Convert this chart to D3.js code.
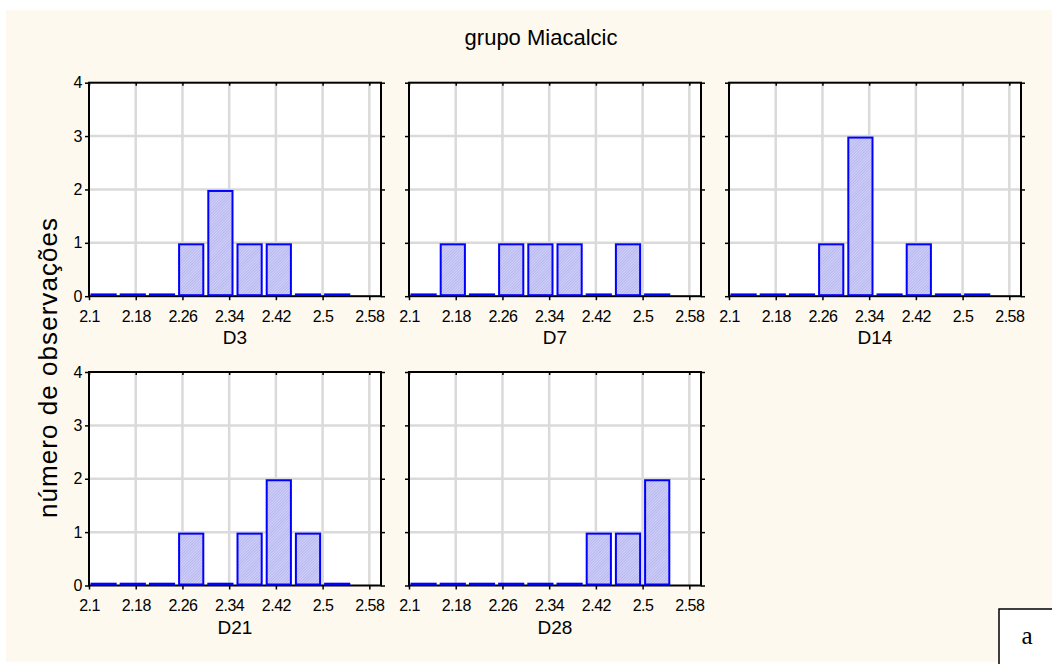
<!DOCTYPE html>
<html>
<head>
<meta charset="utf-8">
<script src="https://cdn.jsdelivr.net/npm/d3@7"></script>
<style>
  body { margin: 0; background: #ffffff; }
  svg { display: block; }
  text { font-family: "Liberation Sans", Arial, sans-serif; fill: #000; }
</style>
</head>
<body>
<svg id="chart" width="1052" height="664"></svg>
<script>
// dados
const binStarts = [2.10, 2.15, 2.20, 2.25, 2.30, 2.35, 2.40, 2.45, 2.50];
const binWidth = 0.05;
const xTicks = [2.1, 2.18, 2.26, 2.34, 2.42, 2.5, 2.58];
const yTicks = [0, 1, 2, 3, 4];
const panelNames = ["D3", "D7", "D14", "D21", "D28"];
const countsD3 = [0, 0, 0, 1, 2, 1, 1, 0, 0];
const countsD7 = [0, 1, 0, 1, 1, 1, 0, 1, 0];
const countsD14 = [0, 0, 0, 1, 3, 0, 1, 0, 0];
const countsD21 = [0, 0, 0, 1, 0, 1, 2, 1, 0];
const countsD28 = [0, 0, 0, 0, 0, 0, 1, 1, 2];
const panelCounts = [countsD3, countsD7, countsD14, countsD21, countsD28];

const svg = d3.select("#chart");

// fundo creme
svg.append("rect")
  .attr("x", 6).attr("y", 10)
  .attr("width", 1046).attr("height", 652)
  .attr("fill", "#fef9ee");

// textura das barras
const pat = svg.append("defs").append("pattern")
  .attr("id", "hatch")
  .attr("patternUnits", "userSpaceOnUse")
  .attr("width", 2).attr("height", 2)
  .attr("patternTransform", "rotate(45)");
pat.append("rect").attr("width", 2).attr("height", 2).attr("fill", "#d2d2fa");
pat.append("rect").attr("width", 1).attr("height", 2).attr("fill", "#b6b6ee");

svg.append("text")
  .attr("x", 541).attr("y", 45)
  .attr("text-anchor", "middle")
  .style("font-size", "22px")
  .text("grupo Miacalcic");

svg.append("text")
  .attr("transform", "translate(57,368) rotate(-90)")
  .attr("text-anchor", "middle")
  .attr("textLength", 300)
  .attr("lengthAdjust", "spacing")
  .style("font-size", "26px")
  .text("número de observações");

const pw = 292, ph = 213.5;

panelNames.forEach((name, i) => {
  const col = i % 3, row = Math.floor(i / 3);
  const left = 89 + col * 320;
  const top = row === 0 ? 82.7 : 372;

  const x = d3.scaleLinear().domain([2.1, 2.6]).range([left, left + pw]);
  const y = d3.scaleLinear().domain([0, 4]).range([top + ph, top]);

  const g = svg.append("g");

  g.append("rect")
    .attr("x", left).attr("y", top)
    .attr("width", pw).attr("height", ph)
    .attr("fill", "#ffffff");

  // grade
  g.selectAll(".vgrid")
    .data(xTicks.slice(1))
    .join("line")
    .attr("x1", d => x(d)).attr("x2", d => x(d))
    .attr("y1", top).attr("y2", top + ph)
    .attr("stroke", "#dadada").attr("stroke-width", 2.5);
  g.selectAll(".hgrid")
    .data(yTicks.slice(1, -1))
    .join("line")
    .attr("x1", left).attr("x2", left + pw)
    .attr("y1", d => y(d)).attr("y2", d => y(d))
    .attr("stroke", "#dadada").attr("stroke-width", 2.5);

  // eixos
  const ax = g.append("g")
    .attr("transform", `translate(0,${top + ph})`)
    .call(d3.axisBottom(x).tickValues(xTicks).tickSize(4).tickPadding(10)
      .tickFormat(d => String(d)));
  const ay = g.append("g")
    .attr("transform", `translate(${left},0)`)
    .call(d3.axisLeft(y).tickValues(yTicks).tickSize(4).tickPadding(3)
      .tickFormat(d => col === 0 ? String(d) : ""));
  const at = g.append("g")
    .attr("transform", `translate(0,${top})`)
    .call(d3.axisTop(x).tickValues(xTicks).tickSize(-3).tickFormat(""));
  const ar = g.append("g")
    .attr("transform", `translate(${left + pw},0)`)
    .call(d3.axisRight(y).tickValues(yTicks).tickSize(4).tickFormat(""));

  [ax, ay, at, ar].forEach(a => {
    a.select(".domain").remove();
    a.selectAll(".tick line").attr("stroke", "#000").attr("stroke-width", 1.5);
    a.selectAll("text")
      .attr("fill", "#000")
      .style("font-family", '"Liberation Sans", Arial, sans-serif')
      .style("font-size", "16px")
      .style("letter-spacing", "-0.5px");
  });

  g.append("rect")
    .attr("x", left).attr("y", top)
    .attr("width", pw).attr("height", ph)
    .attr("fill", "none")
    .attr("stroke", "#000").attr("stroke-width", 2);

  // barras (as vazias aparecem como linha azul sobre a base)
  g.selectAll(".bar")
    .data(binStarts.map((b, k) => ({ b, c: panelCounts[i][k] })))
    .join("rect")
    .attr("x", d => x(d.b) + 2.5)
    .attr("width", d => x(d.b + binWidth) - x(d.b) - 5)
    .attr("y", d => d.c > 0 ? y(d.c) + 1.5 : y(0) - 1.8)
    .attr("height", d => d.c > 0 ? y(0) - 1 - (y(d.c) + 1.5) : 0.6)
    .attr("fill", "url(#hatch)")
    .attr("stroke", "#0000ff").attr("stroke-width", 2);

  g.append("text")
    .attr("x", left + pw / 2).attr("y", top + ph + 48)
    .attr("text-anchor", "middle")
    .style("font-size", "19px")
    .text(name);
});

// caixa "a"
svg.append("rect")
  .attr("x", 999).attr("y", 609)
  .attr("width", 60).attr("height", 60)
  .attr("fill", "#ffffff")
  .attr("stroke", "#000").attr("stroke-width", 1.5);
svg.append("text")
  .attr("x", 1027).attr("y", 644)
  .attr("text-anchor", "middle")
  .style("font-family", '"Liberation Serif", "Times New Roman", serif')
  .style("font-size", "25px")
  .text("a");
</script>
</body>
</html>
